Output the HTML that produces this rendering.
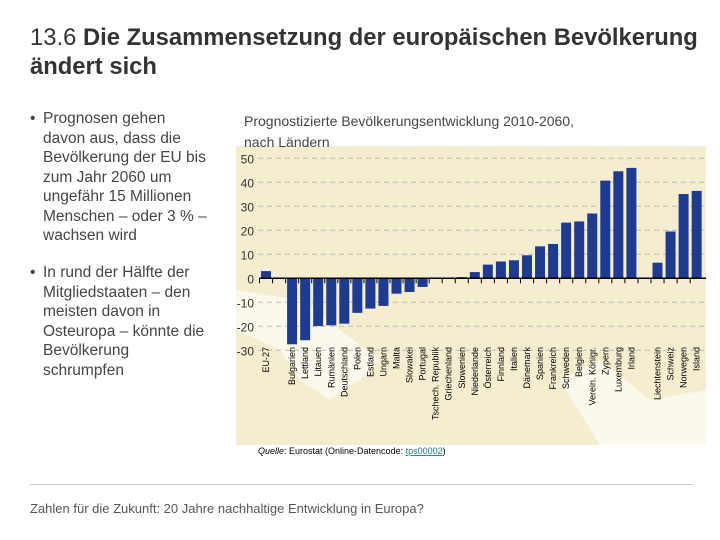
<!DOCTYPE html>
<html><head><meta charset="utf-8"><style>
body{margin:0;width:720px;height:540px;background:#fff;font-family:"Liberation Sans",sans-serif;position:relative;overflow:hidden}
.t{position:absolute;left:30px;top:23px;font-size:23.8px;line-height:29px;color:#333;width:690px}
.b{position:absolute;left:30px;width:200px;font-size:15.5px;line-height:19.5px;color:#444;white-space:nowrap}
.b span{position:absolute;left:0}
.b div{margin-left:13px}
</style></head><body>
<div class="t">13.6 <b>Die Zusammensetzung der europäischen Bevölkerung ändert sich</b></div>
<div class="b" style="top:109px"><span>•</span><div>Prognosen gehen<br>davon aus, dass die<br>Bevölkerung der EU bis<br>zum Jahr 2060 um<br>ungefähr 15 Millionen<br>Menschen – oder 3 % –<br>wachsen wird</div></div>
<div class="b" style="top:263px"><span>•</span><div>In rund der Hälfte der<br>Mitgliedstaaten – den<br>meisten davon in<br>Osteuropa – könnte die<br>Bevölkerung<br>schrumpfen</div></div>
<div style="position:absolute;left:30px;top:484px;width:663px;border-top:1px solid #ccc"></div>
<div style="position:absolute;left:30px;top:501px;font-size:13px;color:#555">Zahlen für die Zukunft: 20 Jahre nachhaltige Entwicklung in Europa?</div>
<svg id="c" width="720" height="540" style="position:absolute;left:0;top:0">
<rect x="236" y="146" width="470" height="299" fill="#f4edcf"/>
<path d="M236 330 L280 350 L300 380 L330 400 L360 380 L380 360 L300 300 L236 290 Z M560 380 L600 360 L650 400 L706 390 L706 445 L600 445 Z" fill="#fbf8ec"/>
<text x="244" y="126" font-size="14" fill="#444">Prognostizierte Bevölkerungsentwicklung 2010-2060,</text>
<text x="244" y="147" font-size="14" fill="#444">nach Ländern</text>
<g id="g"></g>
<text x="258" y="454" font-size="9" fill="#000"><tspan font-style="italic">Quelle</tspan>: Eurostat (Online-Datencode: <tspan fill="#1a7a7a" text-decoration="underline">tps00002</tspan>)</text>
</svg>
<script>
const categories=["EU-27","","Bulgarien","Lettland","Litauen","Rumänien","Deutschland","Polen","Estland","Ungarn","Malta","Slowakei","Portugal","Tschech. Republik","Griechenland","Slowenien","Niederlande","Österreich","Finnland","Italien","Dänemark","Spanien","Frankreich","Schweden","Belgien","Verein. Königr.","Zypern","Luxemburg","Irland","","Liechtenstein","Schweiz","Norwegen","Island"];
const values=[3,null,-27.5,-25.8,-19.9,-19.6,-18.9,-14.4,-12.6,-11.5,-6.4,-5.7,-3.6,0,0.2,0.5,2.6,5.7,7,7.5,9.6,13.3,14.3,23.2,23.7,27,40.7,44.6,46,null,6.5,19.5,35.1,36.4];
const ticks=[50,40,30,20,10,0,-10,-20,-30];
const NS="http://www.w3.org/2000/svg",g=document.getElementById('g');
const y=v=>278.3-v*2.4, x=i=>259.5+i*13.05, bw=10;
function mk(t,a){const e=document.createElementNS(NS,t);for(const k in a)e.setAttribute(k,a[k]);g.appendChild(e);return e;}
ticks.forEach(t=>{
 if(t!==0){const l=mk('line',{x1:258,x2:706,y1:y(t),y2:y(t),stroke:'#bbb','stroke-dasharray':'5,4'});
 
 }
 const tx=mk('text',{x:254,y:y(t)+5,'text-anchor':'end','font-size':12,fill:'#333'});tx.textContent=t;
 
 
});
categories.forEach((c,i)=>{
 const v=values[i];
 if(v!==null&&v!==0){const r=mk('rect',{x:x(i)+1.5,y:Math.min(y(v),y(0)),width:bw,height:Math.abs(y(v)-y(0)),fill:'#1f3b8f'});
 
 }
 const tk=mk('line',{x1:x(i),x2:x(i),y1:y(0),y2:y(0)+5,stroke:'#000'});
 
 
 if(c){const cx=x(i)+6.5+3,ty=347;
 const t=mk('text',{x:cx,y:ty,'text-anchor':'end','font-size':9,fill:'#000',transform:`rotate(-90 ${cx} ${ty})`});t.textContent=c;
 
 }
});
const ax=mk('line',{x1:259,x2:706,y1:y(0),y2:y(0),stroke:'#000','stroke-width':1.5});


</script>
</body></html>
